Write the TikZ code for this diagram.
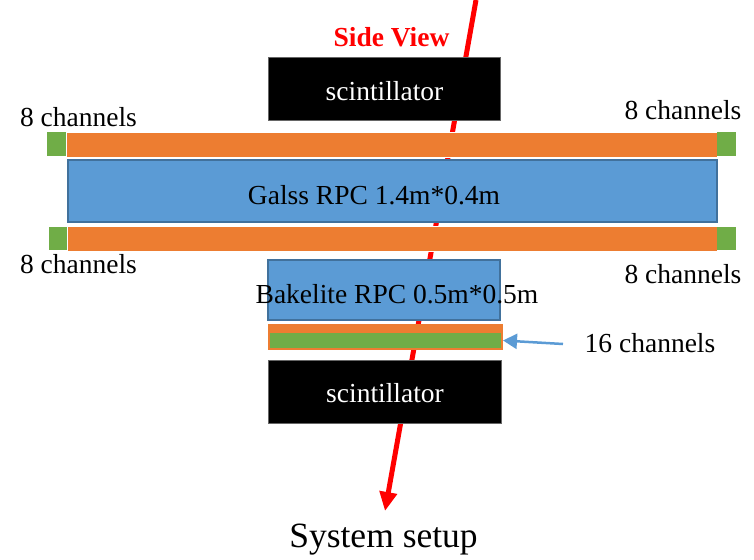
\documentclass[tikz,border=0pt]{standalone}
\usepackage{fontspec}
\setmainfont{Liberation Serif}
\usetikzlibrary{arrows.meta}
\definecolor{orng}{HTML}{ED7D31}
\definecolor{bluef}{HTML}{5B9BD5}
\definecolor{blued}{HTML}{41719C}
\definecolor{grn}{HTML}{70AD47}
\begin{document}
\begin{tikzpicture}[x=1pt,y=-1pt,
  box/.style={anchor=north west,inner sep=0pt,outer sep=0pt},
  lbl/.style={anchor=base,inner sep=0pt,font=\fontsize{27.5}{30}\selectfont},
  scint/.style={box,fill=black,draw=black!60,line width=0.5pt},
  bar/.style={box,fill=orng,draw=white,line width=1pt},
  gsq/.style={box,fill=grn},
  rpc/.style={box,fill=bluef,draw=blued,line width=2pt}]
\useasboundingbox (0,0) rectangle (754,559);
% track
\coordinate (ttop) at (476,0);
\coordinate (tbot) at (385,511);
\draw[red,line width=5pt,-{Triangle[length=19pt,width=17pt]}] (ttop) -- (tbot);
% top scintillator
\node[scint,minimum width=232pt,minimum height=63pt] (s1) at (268,57) {};
\node[lbl,text=white] (s1t) at (384.5,100) {scintillator};
\node[lbl,text=red,font=\fontsize{27.5}{30}\selectfont\bfseries] (sv) at (391.5,46.5) {Side View};
% top orange bar
\node[bar,minimum width=651pt,minimum height=25pt] (ob1) at (66,132) {};
\node[gsq,minimum width=19pt,minimum height=24pt] (g1) at (47,132) {};
\node[gsq,minimum width=19pt,minimum height=24pt] (g2) at (717,132) {};
% glass RPC
\node[rpc,minimum width=649pt,minimum height=62pt] (glass) at (68,160) {};
\node[lbl] (glt) at (374,204) {Galss RPC 1.4m*0.4m};
% bottom orange bar
\node[bar,minimum width=650pt,minimum height=25pt] (ob2) at (67,226) {};
\node[gsq,minimum width=18pt,minimum height=23pt] (g3) at (49,227) {};
\node[gsq,minimum width=19pt,minimum height=23pt] (g4) at (717,227) {};
% channel labels
\node[lbl] (c1) at (78.5,126) {8 channels};
\node[lbl] (c2) at (683,119) {8 channels};
\node[lbl] (c3) at (78.5,273) {8 channels};
\node[lbl] (c4) at (683,283) {8 channels};
% bakelite RPC
\node[rpc,minimum width=232pt,minimum height=60pt] (bak) at (268,260) {};
\node[lbl] (bakt) at (397,303) {Bakelite RPC 0.5m*0.5m};
% strip
\node[box,fill=orng,minimum width=235pt,minimum height=26pt] (strip) at (268,324) {};
\node[box,fill=grn,minimum width=231pt,minimum height=15pt] (stripg) at (270,333) {};
\node[lbl] (c16) at (650,352) {16 channels};
\coordinate (arr) at (563,344);
\draw[bluef,line width=2.5pt,-{Triangle[length=14pt,width=15pt]}] (arr) -- (strip.east|-stripg.east);
% bottom scintillator
\node[scint,minimum width=233pt,minimum height=63pt] (s2) at (268,360) {};
\node[lbl,text=white] (s2t) at (385,402) {scintillator};
% caption
\node[lbl,font=\fontsize{35.5}{38}\selectfont] (cap) at (383.5,547) {System setup};
\end{tikzpicture}
\end{document}
